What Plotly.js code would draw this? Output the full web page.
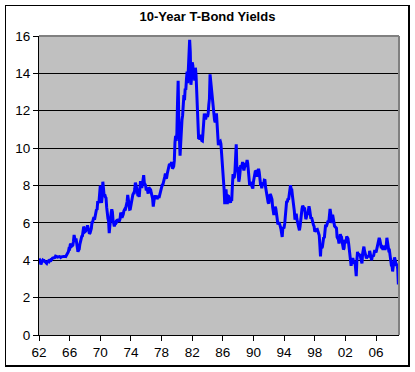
<!DOCTYPE html>
<html>
<head>
<meta charset="utf-8">
<script src="https://cdn.plot.ly/plotly-3.0.1.min.js"></script>
<style>
  html, body { margin: 0; padding: 0; background: #ffffff; }
  #wrap { position: relative; width: 415px; height: 372px; }
  #chart { position: absolute; left: 0; top: 0; width: 415px; height: 372px; }
  #frame { position: absolute; left: 5px; top: 5px; width: 402px; height: 359px;
           border-left: 1px solid #000; border-top: 1px solid #000;
           border-right: 2px solid #000; border-bottom: 2px solid #000;
           pointer-events: none; }
</style>
</head>
<body>
<div id="wrap">
  <div id="chart"></div>
  <div id="frame"></div>
</div>
<script>
// Monthly 10-year T-bond yields (%), Jan 1962 .. Dec 2008
const startYear = 1962;
const yields1960s = [
  4.08, 4.04, 3.93, 3.78, 3.87, 3.91, 4.01, 3.98, 3.98, 3.93, 3.92, 3.86, // 1962
  3.83, 3.92, 3.93, 3.97, 3.93, 3.99, 4.02, 4.00, 4.08, 4.11, 4.12, 4.13, // 1963
  4.17, 4.15, 4.22, 4.23, 4.20, 4.17, 4.19, 4.19, 4.20, 4.19, 4.15, 4.18, // 1964
  4.19, 4.21, 4.21, 4.20, 4.21, 4.21, 4.20, 4.25, 4.29, 4.35, 4.45, 4.62, // 1965
  4.61, 4.83, 4.87, 4.75, 4.78, 4.81, 5.02, 5.35, 5.18, 5.01, 5.16, 4.84, // 1966
  4.58, 4.45, 4.54, 4.59, 4.85, 5.02, 5.16, 5.28, 5.30, 5.48, 5.80, 5.70, // 1967
  5.53, 5.56, 5.74, 5.64, 5.87, 5.72, 5.50, 5.42, 5.46, 5.58, 5.70, 6.03, // 1968
  6.04, 6.19, 6.30, 6.17, 6.32, 6.57, 6.72, 6.69, 7.16, 7.10, 7.14, 7.65  // 1969
];
const yields1970s = [
  8.00, 7.24, 7.07, 7.39, 8.20, 7.84, 7.46, 7.53, 7.39, 7.33, 6.84, 6.39, // 1970
  6.24, 6.11, 5.45, 5.83, 6.39, 6.52, 6.73, 6.58, 6.14, 5.93, 5.81, 5.93, // 1971
  5.95, 6.08, 6.07, 6.19, 6.13, 6.11, 6.11, 6.21, 6.55, 6.48, 6.28, 6.36, // 1972
  6.46, 6.64, 6.71, 6.67, 6.85, 6.90, 7.13, 7.50, 7.09, 6.79, 6.73, 6.74, // 1973
  6.99, 6.96, 7.21, 7.51, 7.58, 7.54, 7.81, 8.15, 8.04, 7.90, 7.68, 7.43, // 1974
  7.50, 7.39, 7.73, 8.23, 8.06, 7.86, 8.06, 8.40, 8.55, 8.14, 8.05, 8.00, // 1975
  7.74, 7.79, 7.73, 7.56, 7.90, 7.86, 7.83, 7.77, 7.59, 7.41, 7.29, 6.87, // 1976
  7.21, 7.39, 7.46, 7.37, 7.46, 7.28, 7.33, 7.40, 7.34, 7.52, 7.58, 7.69, // 1977
  7.96, 8.03, 8.04, 8.15, 8.35, 8.46, 8.64, 8.41, 8.42, 8.64, 8.81, 9.01, // 1978
  9.10, 9.10, 9.12, 9.18, 9.25, 8.91, 8.95, 9.03, 9.33, 10.30, 10.65, 10.39 // 1979
];
const yields1980s = [
  10.80, 12.41, 13.60, 11.47, 10.18, 9.60, 10.25, 11.10, 11.51, 11.75, 12.68, 12.84, // 1980
  12.57, 13.19, 13.12, 13.68, 14.10, 13.47, 14.28, 14.94, 15.80, 15.15, 13.39, 13.72, // 1981
  14.59, 14.43, 13.86, 13.87, 13.62, 14.30, 13.95, 13.06, 12.34, 10.91, 10.55, 10.54, // 1982
  10.46, 10.72, 10.51, 10.40, 10.38, 10.85, 11.38, 11.85, 11.65, 11.54, 11.69, 11.83, // 1983
  11.67, 11.84, 12.32, 12.63, 13.95, 13.56, 13.36, 12.72, 12.52, 12.16, 11.57, 11.50, // 1984
  11.38, 11.51, 11.86, 11.43, 10.85, 10.16, 10.31, 10.33, 10.37, 10.24, 9.78, 9.26,   // 1985
  9.19, 8.70, 7.78, 7.00, 7.71, 7.80, 7.30, 7.00, 7.45, 7.43, 7.25, 7.11,             // 1986
  7.08, 7.25, 7.25, 8.02, 8.61, 8.40, 8.45, 8.76, 9.42, 10.20, 8.86, 8.99,            // 1987
  8.67, 8.21, 8.37, 8.72, 9.09, 8.92, 9.06, 9.26, 8.98, 8.80, 8.96, 9.11,             // 1988
  9.09, 9.17, 9.36, 9.18, 8.86, 8.28, 8.02, 8.11, 8.19, 8.01, 7.87, 7.84              // 1989
];
const yields1990s = [
  8.21, 8.47, 8.59, 8.79, 8.76, 8.48, 8.47, 8.75, 8.89, 8.72, 8.39, 8.08, // 1990
  8.09, 7.85, 8.11, 8.04, 8.07, 8.28, 8.27, 7.90, 7.65, 7.53, 7.42, 7.09, // 1991
  7.03, 7.34, 7.54, 7.48, 7.39, 7.26, 6.84, 6.59, 6.42, 6.59, 6.87, 6.77, // 1992
  6.60, 6.26, 5.98, 5.97, 6.04, 5.96, 5.81, 5.68, 5.36, 5.25, 5.72, 5.77, // 1993
  5.75, 5.97, 6.48, 6.97, 7.18, 7.10, 7.30, 7.24, 7.46, 7.74, 8.02, 7.81, // 1994
  7.78, 7.47, 7.20, 7.06, 6.63, 6.17, 6.28, 6.49, 6.20, 6.04, 5.93, 5.71, // 1995
  5.60, 5.81, 6.27, 6.51, 6.74, 6.91, 6.87, 6.64, 6.83, 6.53, 6.20, 6.30, // 1996
  6.58, 6.42, 6.69, 6.89, 6.71, 6.49, 6.22, 6.30, 6.21, 6.03, 5.88, 5.81, // 1997
  5.54, 5.57, 5.65, 5.64, 5.65, 5.50, 5.46, 5.34, 4.81, 4.20, 4.83, 4.65, // 1998
  4.72, 5.00, 5.23, 5.18, 5.54, 5.90, 5.79, 5.94, 5.92, 6.11, 6.03, 6.28  // 1999
];
const yields2000s = [
  6.75, 6.52, 6.26, 5.99, 6.44, 6.10, 6.05, 5.83, 5.80, 5.74, 5.72, 5.24, // 2000
  5.16, 5.10, 4.89, 5.14, 5.39, 5.28, 5.24, 4.97, 4.73, 4.57, 4.65, 5.09, // 2001
  5.04, 4.91, 5.28, 5.21, 5.16, 4.93, 4.65, 4.26, 3.87, 3.70, 4.05, 4.03, // 2002
  4.05, 3.90, 3.81, 3.96, 3.57, 3.15, 3.98, 4.45, 4.27, 4.29, 4.30, 4.27, // 2003
  4.15, 4.08, 3.83, 4.35, 4.72, 4.73, 4.50, 4.28, 4.13, 4.10, 4.19, 4.23, // 2004
  4.22, 4.17, 4.50, 4.34, 4.14, 4.00, 4.18, 4.26, 4.20, 4.46, 4.54, 4.47, // 2005
  4.42, 4.57, 4.72, 4.99, 5.11, 5.20, 5.09, 4.88, 4.72, 4.73, 4.60, 4.56, // 2006
  4.76, 4.72, 4.56, 4.69, 4.75, 5.20, 5.00, 4.67, 4.52, 4.53, 4.15, 4.10, // 2007
  3.74, 3.74, 3.40, 3.68, 3.88, 4.15, 4.01, 3.89, 3.69, 3.81, 3.53, 2.70  // 2008
];
const xTickVals = [1962, 1966, 1970, 1974, 1978, 1982, 1986, 1990, 1994, 1998, 2002, 2006];
const xTickText = ['62', '66', '70', '74', '78', '82', '86', '90', '94', '98', '02', '06'];
const yTickVals = [0, 2, 4, 6, 8, 10, 12, 14, 16];
const yTickText = ['0', '2', '4', '6', '8', '10', '12', '14', '16'];
const chartTitle = '10-Year T-Bond Yields';

const yields = [].concat(yields1960s, yields1970s, yields1980s, yields1990s, yields2000s);
const xs = yields.map((v, i) => startYear + i / 12);

const FONT = 'Liberation Sans, Arial, sans-serif';

const trace = {
  x: xs, y: yields, type: 'scatter', mode: 'lines',
  line: { color: '#0000FF', width: 3 },
  hoverinfo: 'skip'
};

const layout = {
  width: 415, height: 372,
  margin: { l: 39, r: 16, t: 36, b: 37, pad: 0 },
  paper_bgcolor: '#ffffff',
  plot_bgcolor: '#C0C0C0',
  showlegend: false,
  title: {
    text: chartTitle,
    font: { family: FONT, size: 13, color: '#000', weight: 'bold' },
    xref: 'container', x: 0.5, xanchor: 'center',
    yref: 'container', y: 1 - 16 / 372, yanchor: 'middle'
  },
  xaxis: {
    range: [1962, 2009],
    tickmode: 'array', tickvals: xTickVals, ticktext: xTickText,
    ticks: 'outside', ticklen: 5, tickcolor: '#000', tickwidth: 1,
    showline: true, linecolor: '#000', linewidth: 1,
    showgrid: false, zeroline: false,
    tickfont: { family: FONT, size: 13.5, color: '#000' }
  },
  yaxis: {
    range: [0, 16],
    tickmode: 'array', tickvals: yTickVals, ticktext: yTickText,
    ticks: 'outside', ticklen: 5, tickcolor: '#000', tickwidth: 1,
    showline: true, linecolor: '#000', linewidth: 1,
    showgrid: true, gridcolor: '#000', gridwidth: 1,
    zeroline: false,
    tickfont: { family: FONT, size: 13.5, color: '#000' }
  },
  shapes: [
    { type: 'line', xref: 'paper', yref: 'paper', x0: 0, x1: 1, y0: 1, y1: 1,
      line: { color: '#808080', width: 2 }, layer: 'above' },
    { type: 'line', xref: 'paper', yref: 'paper', x0: 1, x1: 1, y0: 0, y1: 1,
      line: { color: '#808080', width: 2 }, layer: 'above' }
  ]
};

Plotly.newPlot('chart', [trace], layout, { staticPlot: true, displayModeBar: false });
</script>
</body>
</html>
